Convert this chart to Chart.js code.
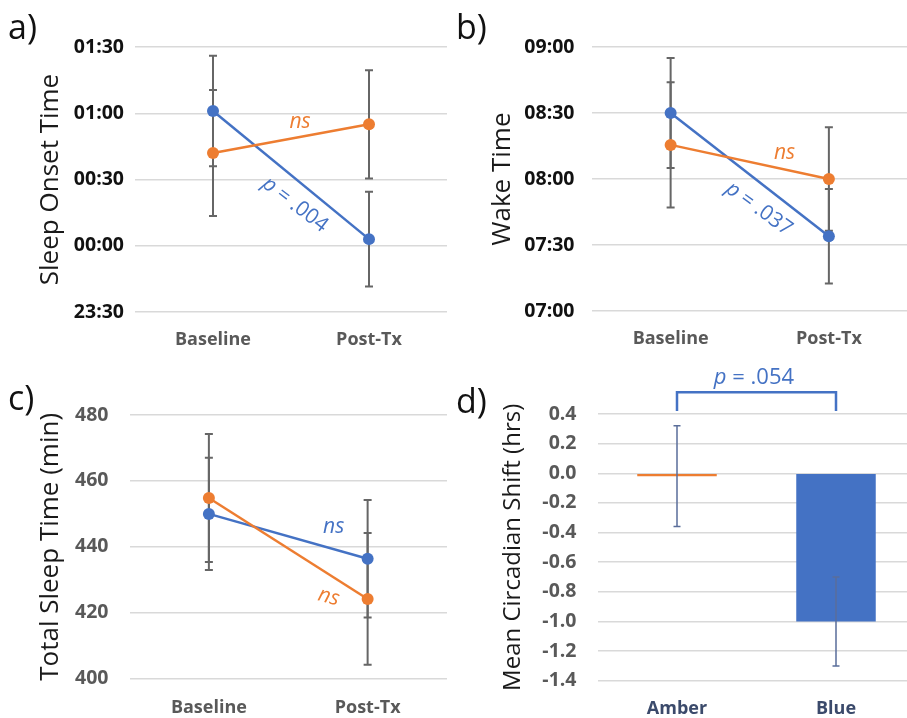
<!DOCTYPE html>
<html><head><meta charset="utf-8">
<script src="https://cdn.jsdelivr.net/npm/chart.js@4.4.1/dist/chart.umd.min.js"></script>
<style>
html,body{margin:0;padding:0;background:#fff;overflow:hidden;width:907px;height:718px;position:relative;}
canvas{position:absolute;}
.lbl{position:absolute;font-family:'Open Sans';font-size:34px;line-height:34px;color:#111;}
</style></head><body>
<canvas id="ca" width="453" height="360" style="left:0;top:0"></canvas>
<canvas id="cb" width="460" height="360" style="left:454px;top:0"></canvas>
<canvas id="cc" width="453" height="358" style="left:0;top:360px"></canvas>
<canvas id="cd" width="462" height="358" style="left:454px;top:360px"></canvas>
<div class="lbl" style="left:8px;top:9px">a)</div>
<div class="lbl" style="left:456px;top:9px">b)</div>
<div class="lbl" style="left:8px;top:380px">c)</div>
<div class="lbl" style="left:456px;top:383px">d)</div>
<script>
// ---------- data ----------
const timeCats = ['Baseline', 'Post-Tx'];
// a) sleep onset, minutes after midnight
const onsetBlue = [61, 3];
const onsetBlueErr = [25, 21.5];
const onsetAmber = [42, 55];
const onsetAmberErr = [28.5, 24.5];
const onsetTicks = ['23:30', '00:00', '00:30', '01:00', '01:30'];
// b) wake time, minutes after midnight
const wakeBlue = [510, 454];
const wakeBlueErr = [25, 21.5];
const wakeAmber = [495.5, 480];
const wakeAmberErr = [28.5, 23.5];
const wakeTicks = ['07:00', '07:30', '08:00', '08:30', '09:00'];
// c) total sleep time, min
const tstBlue = [450, 436.4];
const tstBlueErr = [17, 17.8];
const tstAmber = [454.8, 424.2];
const tstAmberErr = [19.4, 20];
const tstTicks = ['400', '420', '440', '460', '480'];
// d) mean circadian shift, hrs
const shiftCats = ['Amber', 'Blue'];
const shiftVals = [-0.02, -1.0];
const shiftErr = [0.34, 0.30];
const shiftTicks = ['-1.4', '-1.2', '-1.0', '-0.8', '-0.6', '-0.4', '-0.2', '0.0', '0.2', '0.4'];

const BLUE = '#4472C4', AMBER = '#ED7D31';
Chart.defaults.font.family = "'Open Sans', sans-serif";

function drawErr(chart, o) {
  const ctx = chart.ctx, ys = chart.scales.y;
  ctx.save();
  ctx.strokeStyle = o.color; ctx.lineWidth = o.width;
  chart.data.datasets.forEach((ds, di) => {
    if (!ds.errors) return;
    const meta = chart.getDatasetMeta(di);
    meta.data.forEach((el, i) => {
      const v = ds.data[i], e = ds.errors[i];
      const x = el.x;
      const y1 = ys.getPixelForValue(v + e), y2 = ys.getPixelForValue(v - e);
      ctx.beginPath();
      ctx.moveTo(x, y1); ctx.lineTo(x, y2);
      ctx.moveTo(x - o.cap, y1); ctx.lineTo(x + o.cap, y1);
      ctx.moveTo(x - o.cap, y2); ctx.lineTo(x + o.cap, y2);
      ctx.stroke();
    });
  });
  ctx.restore();
}
const errPlugin = {
  id: 'errbars',
  beforeDatasetsDraw(chart, a, o) { if (o.when === 'before') drawErr(chart, o); },
  afterDatasetsDraw(chart, a, o) { if (o.when === 'after') drawErr(chart, o); }
};
const notesPlugin = {
  id: 'notes',
  afterDraw(chart, a, o) {
    const ctx = chart.ctx, xs = chart.scales.x, ys = chart.scales.y;
    (o.items || []).forEach(n => {
      ctx.save();
      if (n.bracket) {
        const x0 = xs.getPixelForValue(n.x0), x1 = xs.getPixelForValue(n.x1);
        const yt = ys.getPixelForValue(n.yTop), ye = ys.getPixelForValue(n.yEnd);
        ctx.strokeStyle = n.color; ctx.lineWidth = 2.5;
        ctx.beginPath();
        ctx.moveTo(x0, ye); ctx.lineTo(x0, yt); ctx.lineTo(x1, yt); ctx.lineTo(x1, ye);
        ctx.stroke();
        ctx.restore();
        return;
      }
      const x = xs.getPixelForValue(n.x), y = ys.getPixelForValue(n.y);
      ctx.translate(x, y);
      ctx.rotate((n.rot || 0) * Math.PI / 180);
      ctx.fillStyle = n.color;
      ctx.textBaseline = 'middle';
      ctx.textAlign = 'left';
      const fonts = n.parts.map(p => (p[1] ? 'italic ' : '') + n.size + "px 'Open Sans'");
      let total = 0;
      const ws = n.parts.map((p, i) => { ctx.font = fonts[i]; const w = ctx.measureText(p[0]).width; total += w; return w; });
      let cx = -total / 2;
      n.parts.forEach((p, i) => { ctx.font = fonts[i]; ctx.fillText(p[0], cx, 0); cx += ws[i]; });
      ctx.restore();
    });
  }
};

function scales(o) {
  return {
    x: {
      offset: true,
      grid: { display: false, drawTicks: false },
      border: { display: false },
      ticks: { font: { size: 18, weight: 'bold' }, color: o.xColor, padding: o.xPad },
      afterFit: s => { s.height = o.h - o.B; }
    },
    y: {
      min: o.min, max: o.max,
      ticks: {
        stepSize: o.step, font: { size: 19.5, weight: 'bold' }, color: o.yColor, padding: o.yPad,
        callback: (v, i) => o.labels[i] !== undefined ? o.labels[i] : String(v)
      },
      grid: { color: '#d9d9d9', lineWidth: 1.5, drawTicks: false },
      border: { display: false },
      title: { display: true, text: o.title, font: { size: o.tSize || 25 }, color: '#1a1a1a', padding: { top: o.tPad, bottom: 0 } },
      afterFit: s => { s.width = o.L; }
    }
  };
}

function lineChart(id, o, blue, blueErr, amber, amberErr, notes) {
  new Chart(document.getElementById(id), {
    type: 'line',
    data: {
      labels: timeCats,
      datasets: [
        { data: amber, errors: amberErr, borderColor: AMBER, backgroundColor: AMBER, borderWidth: 2.5, pointRadius: 6, pointBorderWidth: 0, pointBackgroundColor: AMBER },
        { data: blue, errors: blueErr, borderColor: BLUE, backgroundColor: BLUE, borderWidth: 2.5, pointRadius: 6, pointBorderWidth: 0, pointBackgroundColor: BLUE }
      ]
    },
    options: {
      responsive: false, animation: false, devicePixelRatio: 1,
      layout: { padding: { left: 0, top: o.T, right: o.w - o.R, bottom: 0 } },
      plugins: { legend: { display: false }, tooltip: { enabled: false },
        errbars: { when: 'before', color: '#666666', width: 2, cap: 4 },
        notes: { items: notes } },
      scales: scales(o)
    },
    plugins: [errPlugin, notesPlugin]
  });
}

lineChart('ca', { w: 453, h: 360, L: 135, R: 447, T: 47, B: 312, min: -30, max: 90, step: 30, labels: onsetTicks,
  title: 'Sleep Onset Time', tSize: 26, tPad: 35, yPad: 11, xPad: 17, xColor: '#595959', yColor: '#111111' },
  onsetBlue, onsetBlueErr, onsetAmber, onsetAmberErr, [
    { x: 0.558, y: 55.9, parts: [['ns', true]], size: 21, color: AMBER },
    { x: 0.526, y: 18.6, rot: 37.5, parts: [['p', true], [' = .004', false]], size: 21, color: BLUE }
  ]);

lineChart('cb', { w: 460, h: 360, L: 137.5, R: 459.5, T: 47, B: 311, min: 420, max: 540, step: 30, labels: wakeTicks,
  title: 'Wake Time', tSize: 26, tPad: 33, yPad: 17, xPad: 17, xColor: '#595959', yColor: '#111111' },
  wakeBlue, wakeBlueErr, wakeAmber, wakeAmberErr, [
    { x: 0.72, y: 491.8, parts: [['ns', true]], size: 21, color: AMBER },
    { x: 0.559, y: 466.4, rot: 36, parts: [['p', true], [' = .037', false]], size: 21, color: BLUE }
  ]);

lineChart('cc', { w: 453, h: 358, L: 129.5, R: 447.5, T: 55, B: 318.7, min: 400, max: 480, step: 20, labels: tstTicks,
  title: 'Total Sleep Time (min)', tSize: 26, tPad: 35, yPad: 21, xPad: 18, xColor: '#595959', yColor: '#595959' },
  tstBlue, tstBlueErr, tstAmber, tstAmberErr, [
    { x: 0.786, y: 446.1, parts: [['ns', true]], size: 21, color: BLUE },
    { x: 0.755, y: 424.8, rot: 15, parts: [['ns', true]], size: 21, color: AMBER }
  ]);

(function () {
  const o = { w: 462, h: 358, L: 143.5, R: 461.5, T: 54, B: 320.7, min: -1.4, max: 0.4, step: 0.2, labels: shiftTicks,
    title: 'Mean Circadian Shift (hrs)', tSize: 24, tPad: 45, yPad: 21, xPad: 17, xColor: '#3b4a6b', yColor: '#595959' };
  new Chart(document.getElementById('cd'), {
    type: 'bar',
    data: {
      labels: shiftCats,
      datasets: [{ data: shiftVals, errors: shiftErr, backgroundColor: [AMBER, BLUE], barPercentage: 0.5, categoryPercentage: 1 }]
    },
    options: {
      responsive: false, animation: false, devicePixelRatio: 1,
      layout: { padding: { left: 0, top: o.T, right: o.w - o.R, bottom: 0 } },
      plugins: { legend: { display: false }, tooltip: { enabled: false },
        errbars: { when: 'after', color: '#5a6e9a', width: 1.5, cap: 3.5 },
        notes: { items: [
          { bracket: true, x0: 0, x1: 1, yTop: 0.547, yEnd: 0.42, color: BLUE },
          { x: 0.484, y: 0.648, parts: [['p', true], [' = .054', false]], size: 22, color: BLUE }
        ] } },
      scales: scales(o)
    },
    plugins: [errPlugin, notesPlugin]
  });
})();
</script>
</body></html>
